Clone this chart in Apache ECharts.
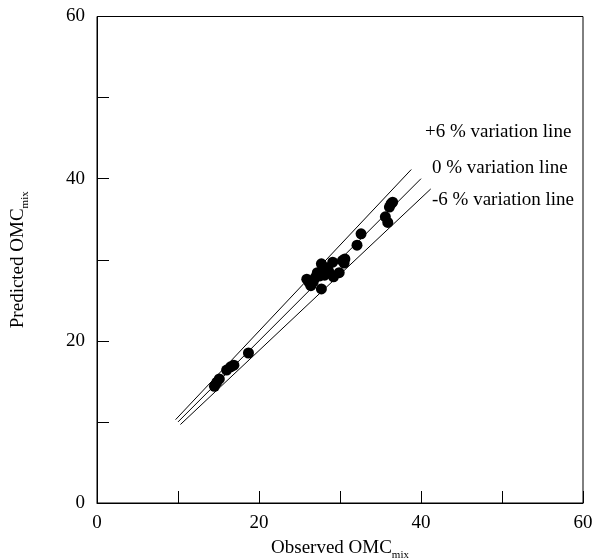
<!DOCTYPE html>
<html>
<head>
<meta charset="utf-8">
<script src="https://cdn.jsdelivr.net/npm/echarts@6/dist/echarts.min.js"></script>
<style>
  html, body { margin: 0; padding: 0; background: #fff; }
  #main { width: 602px; height: 560px; }
</style>
</head>
<body>
<div id="main"></div>
<script>
// observed vs predicted OMC_mix
const observed = [14.5, 14.8, 15.1, 16.0, 16.5, 16.9, 18.7,
  25.9, 26.2, 26.4, 26.7, 27.0, 27.2, 27.5, 27.7, 27.9, 28.1, 28.3, 28.6, 27.7,
  29.1, 29.2, 29.9, 30.3, 30.5, 30.6,
  32.1, 32.6, 35.6, 35.9, 36.1, 36.3, 36.5];
const predicted = [14.4, 14.9, 15.3, 16.4, 16.8, 17.0, 18.5,
  27.6, 27.2, 26.8, 27.3, 27.9, 28.4, 28.0, 29.5, 28.8, 28.1, 29.0, 28.6, 26.4,
  29.7, 27.9, 28.4, 29.9, 29.6, 30.1,
  31.8, 33.2, 35.3, 34.6, 36.5, 36.9, 37.1];

// variation lines (end points)
const plus6 = [[9.7, 10.28], [38.8, 41.13]];
const zero = [[10.0, 10.0], [40.0, 40.0]];
const minus6 = [[10.3, 9.68], [41.2, 38.73]];

const tickLabels = [0, 20, 40, 60];
const lineLabels = ['+6 % variation line', '0 % variation line', '-6 % variation line'];

const points = observed.map((v, i) => [v, predicted[i]]);
const font = 'Liberation Serif, Times New Roman, serif';

let chart = echarts.init(document.getElementById('main'));
const lineStyle = { color: '#000', width: 1 };
const subStyle = { fontFamily: font, fontSize: 11, verticalAlign: 'bottom', padding: [14, 0, 0, 0], color: '#000' };

chart.setOption({
  animation: false,
  grid: { left: 97, right: 19, top: 16.5, bottom: 57, show: true, borderColor: '#000', borderWidth: 1,
    containLabel: false, outerBoundsMode: 'none' },
  xAxis: {
    type: 'value', min: 0, max: 60, interval: 10,
    name: 'Observed OMC{sub|mix}', nameLocation: 'middle', nameGap: 33,
    nameTextStyle: { fontFamily: font, fontSize: 19, color: '#000', rich: { sub: subStyle } },
    axisLine: { lineStyle: { color: '#000' } },
    axisTick: { inside: true, length: 12, lineStyle: { color: '#000' } },
    axisLabel: { margin: 11, fontFamily: font, fontSize: 19, color: '#000',
      formatter: v => tickLabels.includes(v) ? String(v) : '' },
    splitLine: { show: false }
  },
  yAxis: {
    type: 'value', min: 0, max: 60, interval: 10,
    name: 'Predicted OMC{sub|mix}', nameLocation: 'middle', nameGap: 66, nameRotate: 90,
    nameTextStyle: { fontFamily: font, fontSize: 19, color: '#000', rich: { sub: subStyle } },
    axisLine: { lineStyle: { color: '#000' } },
    axisTick: { inside: true, length: 12, lineStyle: { color: '#000' } },
    axisLabel: { margin: 12, fontFamily: font, fontSize: 19, color: '#000',
      formatter: v => tickLabels.includes(v) ? String(v) : '' },
    splitLine: { show: false }
  },
  graphic: [
    { type: 'text', left: 425, top: 123, style: { text: lineLabels[0], font: '19px ' + font, fill: '#000' } },
    { type: 'text', left: 432, top: 159, style: { text: lineLabels[1], font: '19px ' + font, fill: '#000' } },
    { type: 'text', left: 432, top: 191, style: { text: lineLabels[2], font: '19px ' + font, fill: '#000' } }
  ],
  series: [
    { type: 'line', data: plus6, symbol: 'none', lineStyle: lineStyle },
    { type: 'line', data: zero, symbol: 'none', lineStyle: lineStyle },
    { type: 'line', data: minus6, symbol: 'none', lineStyle: lineStyle },
    { type: 'scatter', data: points, symbolSize: 11, itemStyle: { color: '#000', opacity: 1 } }
  ]
});
</script>
</body>
</html>
